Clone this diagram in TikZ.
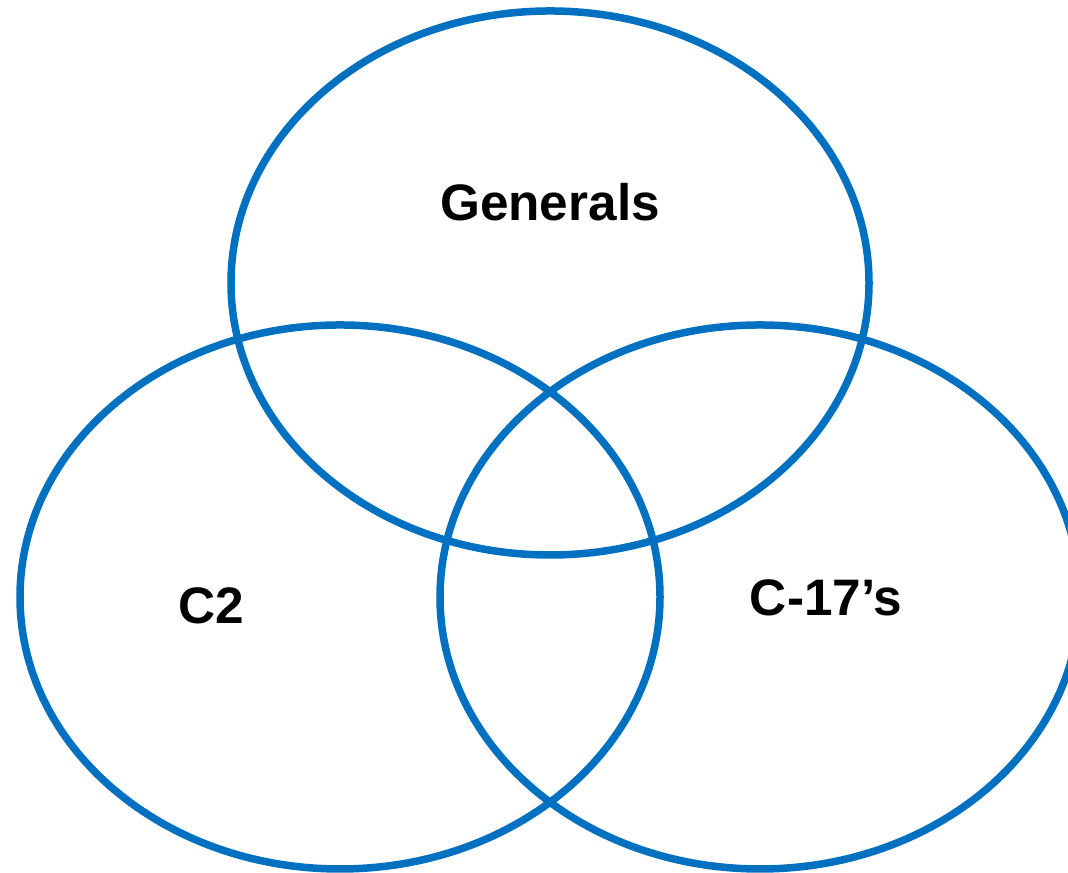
\documentclass[tikz,border=0pt]{standalone}
\usepackage{fontspec}
\setmainfont{Liberation Sans}
\definecolor{ringblue}{HTML}{0070C0}
\tikzset{
    ring/.style={draw=ringblue, line width=0.075cm},
    setname/.style={font=\bfseries\fontsize{14.6}{18}\selectfont}
}
\begin{document}
\begin{tikzpicture}
    \useasboundingbox (0,0) rectangle (10.68,8.73);
    \draw [ring] (5.50,5.90) ellipse [x radius=3.19, y radius=2.72];
    \draw [ring] (3.40,2.76) ellipse [x radius=3.20, y radius=2.72];
    \draw [ring] (7.60,2.76) ellipse [x radius=3.20, y radius=2.72];
    \node [setname] (generals) at (5.50,6.71) {Generals};
    \node [setname] (ctwo) at (2.11,2.67) {C2};
    \node [setname] (cseventeen) at (8.26,2.75) {C-17's};
\end{tikzpicture}
\end{document}
